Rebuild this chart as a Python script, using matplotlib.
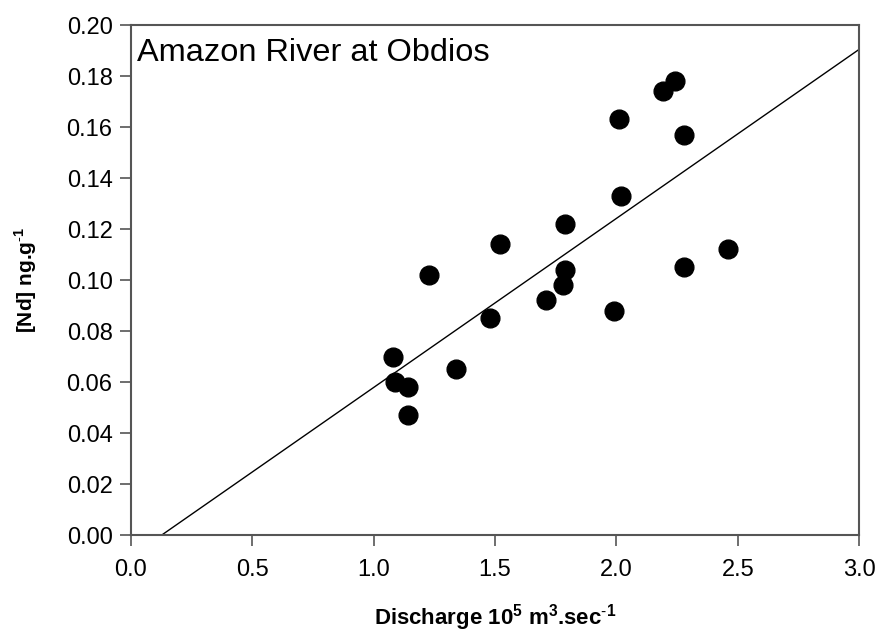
import matplotlib
matplotlib.use("Agg")
import matplotlib.pyplot as plt
import numpy as np

plt.rcParams["font.family"] = ["Liberation Sans", "DejaVu Sans"]
plt.rcParams["mathtext.fontset"] = "custom"
plt.rcParams["mathtext.rm"] = "Liberation Sans"
plt.rcParams["mathtext.bf"] = "Liberation Sans:bold"

# Amazon River at Obidos: discharge (10^5 m3/s) vs dissolved Nd (ng/g)
discharge = [2.24, 2.19, 2.01, 2.28, 2.02, 1.79, 1.52, 1.23, 1.79, 1.78,
             2.28, 1.71, 1.99, 1.48, 1.08, 1.34, 1.09, 1.14, 1.14, 2.46]
nd_conc = [0.178, 0.174, 0.163, 0.157, 0.133, 0.122, 0.114, 0.102, 0.104, 0.098,
           0.105, 0.092, 0.088, 0.085, 0.070, 0.065, 0.060, 0.058, 0.047, 0.112]

# regression line end points
fit_x = [0.128, 3.0]
fit_y = [0.0, 0.1905]

x_ticks = np.arange(0, 3.01, 0.5)
y_ticks = np.arange(0, 0.201, 0.02)

fig = plt.figure(figsize=(8.8, 6.38), dpi=100)
ax = fig.add_axes([0.1485, 0.1614, 0.828, 0.7994])

ax.plot(fit_x, fit_y, color="black", lw=1.0, zorder=2)
ax.plot(discharge, nd_conc, "o", color="black", ms=13.5, mec="black", zorder=3)

ax.set_xlim(0, 3.0)
ax.set_ylim(0, 0.20)
ax.set_xticks(x_ticks)
ax.set_yticks(y_ticks)
ax.set_xticklabels([f"{v:.1f}" for v in x_ticks])
ax.set_yticklabels([f"{v:.2f}" for v in y_ticks])
ax.tick_params(direction="out", length=8, width=1.2, color="#555555",
               labelsize=17, pad=5)
ax.tick_params(axis="x", pad=9)
for s in ax.spines.values():
    s.set_color("#555555")
    s.set_linewidth(1.5)

ax.text(0.008, 0.975, "Amazon River at Obdios", transform=ax.transAxes,
        fontsize=23.4, va="top", ha="left")

ax.set_xlabel(r"Discharge 10$^{\mathbf{5}}$ m$^{\mathbf{3}}$.sec$^{\mathbf{\text{-}1}}$",
              fontsize=16, fontweight="bold")
ax.xaxis.set_label_coords(0.5, -0.132)
ax.set_ylabel(r"[Nd] ng.g$^{\mathbf{\text{-}1}}$", fontsize=15, fontweight="bold")
ax.yaxis.set_label_coords(-0.126, 0.5)

fig.savefig("out.png", dpi=100)
